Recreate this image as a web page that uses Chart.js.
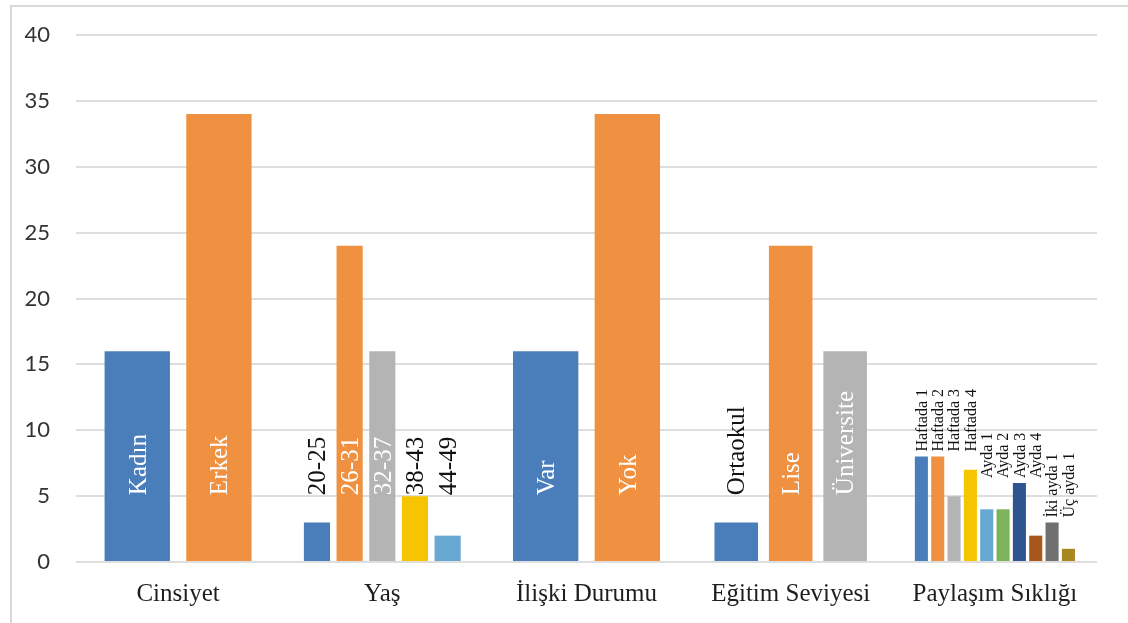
<!DOCTYPE html>
<html lang="tr">
<head>
<meta charset="utf-8">
<title>Katılımcı Özellikleri</title>
<script src="https://cdn.jsdelivr.net/npm/chart.js@4.4.1/dist/chart.umd.min.js"></script>
<style>
    html, body { margin: 0; padding: 0; background: #fff; }
    #grafik { display: block; }
</style>
</head>
<body>
<canvas id="grafik" width="1128" height="623"></canvas>
<script>
// kategoriler ve her kategorideki alt gruplar
var kategoriler = ['Cinsiyet', 'Yaş', 'İlişki Durumu', 'Eğitim Seviyesi', 'Paylaşım Sıklığı'];

var cinsiyetEtiket = ['Kadın', 'Erkek'];
var cinsiyetDeger = [16, 34];

var yasEtiket = ['20-25', '26-31', '32-37', '38-43', '44-49'];
var yasDeger = [3, 24, 16, 5, 2];

var iliskiEtiket = ['Var', 'Yok'];
var iliskiDeger = [16, 34];

var egitimEtiket = ['Ortaokul', 'Lise', 'Üniversite'];
var egitimDeger = [3, 24, 16];

var siklikEtiket = ['Haftada 1', 'Haftada 2', 'Haftada 3', 'Haftada 4', 'Ayda 1', 'Ayda 2', 'Ayda 3', 'Ayda 4', 'İki ayda 1', 'Üç ayda 1'];
var siklikDeger = [8, 8, 5, 7, 4, 4, 6, 2, 3, 1];

var yEksen = [0, 5, 10, 15, 20, 25, 30, 35, 40];

var renkler = ['#4a7ebb', '#ef9140', '#b4b4b4', '#f6c400', '#67a8d3',
               '#7cb35b', '#2f5590', '#a9561b', '#707070', '#a8871e'];

var gruplar = [
    [cinsiyetEtiket, cinsiyetDeger],
    [yasEtiket, yasDeger],
    [iliskiEtiket, iliskiDeger],
    [egitimEtiket, egitimDeger],
    [siklikEtiket, siklikDeger]
];

// her sıra bir dataset, olmayan yerler null (skipNull ile boşluk bırakmaz)
var enFazla = Math.max.apply(null, gruplar.map(function (g) { return g[1].length; }));
var datasets = [];
for (var i = 0; i < enFazla; i++) {
    datasets.push({
        data: gruplar.map(function (g) { return g[1][i] !== undefined ? g[1][i] : null; }),
        etiketler: gruplar.map(function (g) { return g[0][i] !== undefined ? g[0][i] : null; }),
        backgroundColor: renkler[i],
        borderWidth: 0,
        skipNull: true,
        categoryPercentage: 0.8,
        barPercentage: 0.8
    });
}

var serif = '"Liberation Serif", "Times New Roman", serif';

var cerceve = {
    id: 'cerceve',
    beforeDraw: function (chart) {
        var ctx = chart.ctx;
        ctx.save();
        ctx.fillStyle = '#fff';
        ctx.fillRect(0, 0, chart.width, chart.height);
        ctx.strokeStyle = '#d9d9d9';
        ctx.lineWidth = 2;
        ctx.strokeRect(11, 6, chart.width + 20, chart.height + 20);
        ctx.restore();
    }
};

function grupAnahtari(etiket) {
    var ilk = etiket.split(' ')[0];
    return (ilk === 'Haftada' || ilk === 'Ayda') ? ilk : 'diger';
}

var cubukEtiketleri = {
    id: 'cubukEtiketleri',
    afterDatasetsDraw: function (chart) {
        var ctx = chart.ctx;
        var y = chart.scales.y;
        ctx.save();
        chart.data.datasets.forEach(function (ds, di) {
            var meta = chart.getDatasetMeta(di);
            ds.data.forEach(function (v, k) {
                if (v === null) return;
                var bar = meta.data[k];
                var etiket = ds.etiketler[k];
                var grupEtiket = gruplar[k][0];
                var grupDeger = gruplar[k][1];
                var boy, taban, renk;
                if (grupEtiket.length > 5) {
                    // kalabalık grupta küçük yazı, alt grubun en uzun çubuğunun üstünde
                    var anahtar = grupAnahtari(etiket);
                    var enUzun = 0;
                    grupEtiket.forEach(function (e, n) {
                        if (grupAnahtari(e) === anahtar) enUzun = Math.max(enUzun, grupDeger[n]);
                    });
                    boy = 16;
                    ctx.font = boy + 'px ' + serif;
                    taban = y.getPixelForValue(enUzun) - 5;
                    renk = '#111';
                } else {
                    boy = 25;
                    ctx.font = boy + 'px ' + serif;
                    taban = y.getPixelForValue(5) - 1;
                    var uzunluk = ctx.measureText(etiket).width;
                    renk = bar.y < taban - uzunluk ? '#ffffff' : '#111';
                }
                ctx.fillStyle = renk;
                ctx.save();
                ctx.translate(bar.x, taban);
                ctx.rotate(-Math.PI / 2);
                ctx.textAlign = 'left';
                ctx.textBaseline = 'alphabetic';
                ctx.fillText(etiket, 0, boy * 0.33);
                ctx.restore();
            });
        });
        ctx.restore();
    }
};

var grafik = new Chart(document.getElementById('grafik'), {
    type: 'bar',
    data: {
        labels: kategoriler,
        datasets: datasets
    },
    options: {
        responsive: false,
        animation: false,
        devicePixelRatio: 1,
        layout: { padding: { left: 0, top: 35, right: 31, bottom: 0 } },
        plugins: {
            legend: { display: false },
            tooltip: { enabled: false }
        },
        scales: {
            x: {
                afterFit: function (scale) {
                    scale.height = 61;
                    scale.paddingLeft = 0;
                    scale.paddingRight = 0;
                },
                grid: { display: false, drawTicks: false },
                border: { display: false },
                ticks: {
                    padding: 20,
                    color: '#1e1e1e',
                    font: { family: serif, size: 25, lineHeight: 1 }
                }
            },
            y: {
                min: yEksen[0],
                max: yEksen[yEksen.length - 1],
                afterFit: function (scale) {
                    scale.width = 76;
                    scale.paddingTop = 0;
                    scale.paddingBottom = 0;
                },
                afterBuildTicks: function (scale) {
                    scale.ticks = yEksen.map(function (v) { return { value: v }; });
                },
                grid: { color: '#dedede', lineWidth: 2, drawTicks: false },
                border: { display: false },
                ticks: {
                    padding: 26,
                    color: '#333',
                    font: { family: 'Lato, "Liberation Sans", sans-serif', size: 22 }
                }
            }
        }
    },
    plugins: [cerceve, cubukEtiketleri]
});
</script>
</body>
</html>
